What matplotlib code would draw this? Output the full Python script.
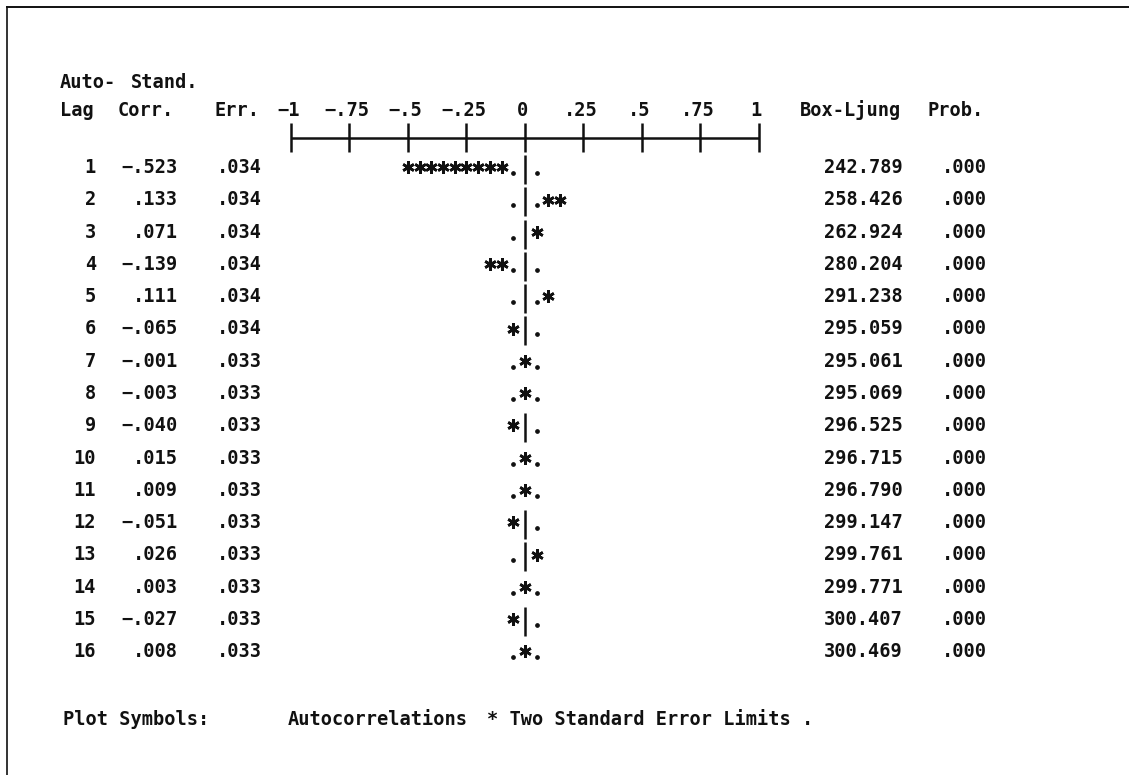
import matplotlib
matplotlib.use("Agg")
import matplotlib.pyplot as plt
from matplotlib.transforms import blended_transform_factory

# ACF table
lags = [1, 2, 3, 4, 5, 6, 7, 8, 9, 10, 11, 12, 13, 14, 15, 16]
autocorr = [-0.523, 0.133, 0.071, -0.139, 0.111, -0.065, -0.001, -0.003,
            -0.040, 0.015, 0.009, -0.051, 0.026, 0.003, -0.027, 0.008]
std_err = [0.034, 0.034, 0.034, 0.034, 0.034, 0.034, 0.033, 0.033,
           0.033, 0.033, 0.033, 0.033, 0.033, 0.033, 0.033, 0.033]
box_ljung = [242.789, 258.426, 262.924, 280.204, 291.238, 295.059, 295.061, 295.069,
             296.525, 296.715, 296.790, 299.147, 299.761, 299.771, 300.407, 300.469]
prob = [0.000, 0.000, 0.000, 0.000, 0.000, 0.000, 0.000, 0.000,
        0.000, 0.000, 0.000, 0.000, 0.000, 0.000, 0.000, 0.000]

tick_values = [-1, -0.75, -0.5, -0.25, 0, 0.25, 0.5, 0.75, 1]
tick_labels = ["-1", "-.75", "-.5", "-.25", "0", ".25", ".5", ".75", "1"]

STEP = 0.05  # one character column of the text plot
FONT = "DejaVu Sans Mono"
FS = 13.4
INK = "#111111"


def spss_fmt(v):
    s = f"{v:.3f}"
    if s.startswith("-0."):
        s = "\u2212." + s[3:]
    elif s.startswith("0."):
        s = s[1:]
    return s


fig = plt.figure(figsize=(11.29, 7.75), dpi=100)
ax = fig.add_axes([0, 0, 1, 1])
ax.set_xlim(-525 / 234, (1129 - 525) / 234)
ax.set_ylim(1 + 609 / 32.27, 1 - 166 / 32.27)
ax.axis("off")

# frame lines (top and left only, like the scanned page)
ax.plot([0.0062, 1], [0.991, 0.991], color=INK, lw=1.4, transform=ax.transAxes, clip_on=False)
ax.plot([0.0062, 0.0062], [0, 0.991], color=INK, lw=1.2, transform=ax.transAxes, clip_on=False)

tr = blended_transform_factory(ax.transAxes, ax.transData)
W = 1129.0
txt = dict(family=FONT, fontsize=FS, fontweight="bold", color=INK, va="baseline")

# headers
ax.text(60 / W, -1.42, "Auto-", transform=tr, ha="left", **txt)
ax.text(131 / W, -1.42, "Stand.", transform=tr, ha="left", **txt)
HEAD_Y = -0.56
ax.text(60 / W, HEAD_Y, "Lag", transform=tr, ha="left", **txt)
ax.text(118 / W, HEAD_Y, "Corr.", transform=tr, ha="left", **txt)
ax.text(214 / W, HEAD_Y, "Err.", transform=tr, ha="left", **txt)
ax.text(800 / W, HEAD_Y, "Box-Ljung", transform=tr, ha="left", **txt)
ax.text(928 / W, HEAD_Y, "Prob.", transform=tr, ha="left", **txt)
for tv, tl in zip(tick_values, tick_labels):
    ax.text(tv - 0.012, HEAD_Y, tl.replace("-", "\u2212"), ha="center", **txt)

# axis scale line with ticks
AXIS_Y = 0.13
ax.hlines(AXIS_Y, tick_values[0], tick_values[-1], color=INK, lw=1.8)
ax.vlines(tick_values, -0.33, 0.57, color=INK, lw=1.8)

# rows
star_x, star_y, dot_x, dot_y, bar_y = [], [], [], [], []
for i, (lag, r, se) in enumerate(zip(lags, autocorr, std_err)):
    base = lag + 0.22
    ax.text(96 / W, base, str(lag), transform=tr, ha="right", **txt)
    ax.text(178 / W, base, spss_fmt(r), transform=tr, ha="right", **txt)
    ax.text(262 / W, base, spss_fmt(se), transform=tr, ha="right", **txt)
    ax.text(903 / W, base, f"{box_ljung[i]:.3f}", transform=tr, ha="right", **txt)
    ax.text(987 / W, base, spss_fmt(prob[i]), transform=tr, ha="right", **txt)

    n = int(round(abs(r) / STEP))
    lim = int(2 * se / STEP)
    sgn = 1 if r >= 0 else -1
    if n == 0:
        star_x.append(0.0)
        star_y.append(lag)
    else:
        bar_y.append(lag)
        for k in range(1, n + 1):
            if k == lim and n > lim:
                continue
            star_x.append(sgn * k * STEP)
            star_y.append(lag)
    for side in (-1, 1):
        if side != sgn or n != lim:
            dot_x.append(side * lim * STEP)
            dot_y.append(lag + 0.22)

ax.vlines([0] * len(bar_y), [b - 0.34 for b in bar_y], [b + 0.56 for b in bar_y],
          color=INK, lw=1.8)
ax.plot(star_x, [y + 0.04 for y in star_y], linestyle="none", marker=(6, 2, 0),
        ms=8.8, mew=1.9, color=INK)
ax.plot(dot_x, dot_y, linestyle="none", marker="o", ms=2.4, color=INK)

# legend line
FOOT_Y = 18.32
ax.text(63 / W, FOOT_Y, "Plot Symbols:", transform=tr, ha="left", **txt)
ax.text(288 / W, FOOT_Y, "Autocorrelations", transform=tr, ha="left", **txt)
ax.text(487 / W, FOOT_Y, "* Two Standard Error Limits .", transform=tr, ha="left", **txt)

fig.savefig("out.png", dpi=100, facecolor="white")
